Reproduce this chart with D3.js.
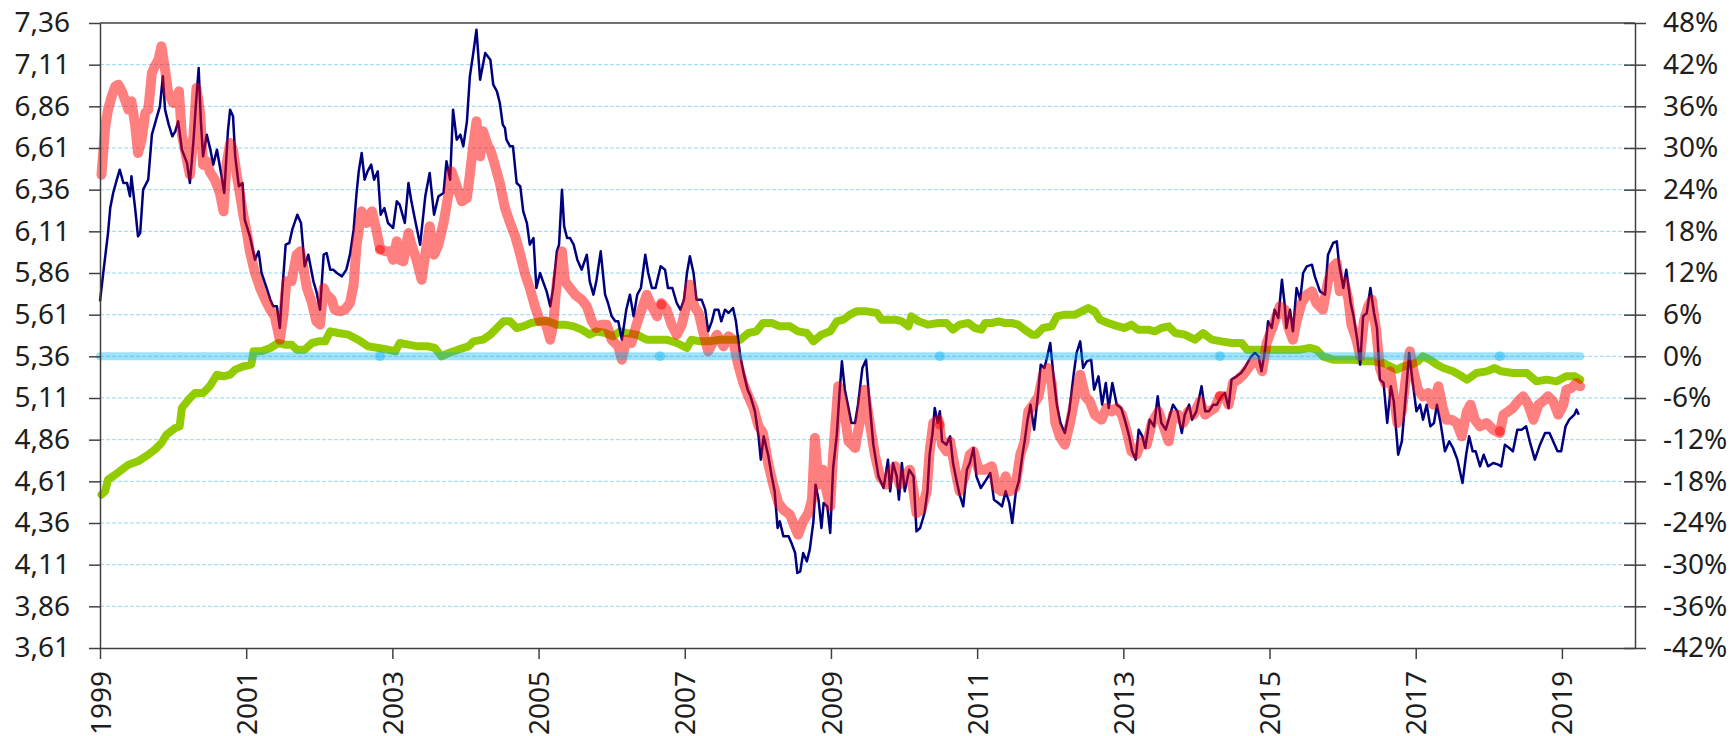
<!DOCTYPE html>
<html>
<head>
<meta charset="utf-8">
<script src="https://cdn.jsdelivr.net/npm/d3@7"></script>
<style>
  body { margin: 0; background: #fff; }
  text { font-family: "Noto Sans", sans-serif; }
</style>
</head>
<body>
<div id="chart"></div>
<script>
// x tick labels and axis ticks
var xTicks = [1999, 2001, 2003, 2005, 2007, 2009, 2011, 2013, 2015, 2017, 2019];
var leftTicks = [3.61, 3.86, 4.11, 4.36, 4.61, 4.86, 5.11, 5.36, 5.61, 5.86, 6.11, 6.36, 6.61, 6.86, 7.11, 7.36];
var rightTicks = [-42, -36, -30, -24, -18, -12, -6, 0, 6, 12, 18, 24, 30, 36, 42, 48];

// navy series [year, value] (left axis)
var navy = [
 [1999.00,5.69],[1999.05,5.88],[1999.11,6.10],[1999.14,6.25],[1999.18,6.34],[1999.23,6.42],[1999.27,6.48],[1999.32,6.40],
 [1999.37,6.40],[1999.41,6.32],[1999.43,6.44],[1999.48,6.25],[1999.52,6.08],[1999.55,6.10],[1999.59,6.36],[1999.66,6.42],
 [1999.71,6.69],[1999.78,6.80],[1999.82,6.86],[1999.86,7.04],[1999.89,6.84],[1999.94,6.75],[1999.99,6.68],[2000.03,6.71],
 [2000.07,6.77],[2000.12,6.60],[2000.19,6.52],[2000.23,6.40],[2000.28,6.66],[2000.31,6.86],[2000.35,7.09],[2000.38,6.77],
 [2000.41,6.56],[2000.46,6.69],[2000.51,6.60],[2000.55,6.51],[2000.60,6.60],[2000.66,6.45],[2000.70,6.34],[2000.75,6.71],
 [2000.78,6.84],[2000.82,6.80],[2000.85,6.56],[2000.90,6.38],[2000.95,6.40],[2000.98,6.18],[2001.05,6.08],[2001.12,5.94],
 [2001.17,5.99],[2001.21,5.86],[2001.28,5.77],[2001.33,5.70],[2001.37,5.66],[2001.42,5.66],[2001.46,5.53],[2001.49,5.73],
 [2001.54,6.03],[2001.59,6.04],[2001.63,6.12],[2001.70,6.21],[2001.75,6.16],[2001.80,5.90],[2001.85,5.97],[2001.92,5.81],
 [2001.96,5.75],[2002.01,5.64],[2002.06,5.97],[2002.10,5.98],[2002.15,5.88],[2002.19,5.88],[2002.24,5.86],[2002.31,5.84],
 [2002.37,5.88],[2002.42,5.97],[2002.47,6.12],[2002.51,6.34],[2002.54,6.47],[2002.58,6.58],[2002.62,6.42],[2002.66,6.47],
 [2002.71,6.51],[2002.75,6.42],[2002.80,6.47],[2002.84,6.21],[2002.89,6.25],[2002.94,6.16],[2003.01,6.13],[2003.06,6.29],
 [2003.10,6.27],[2003.17,6.16],[2003.22,6.40],[2003.26,6.29],[2003.31,6.18],[2003.38,6.03],[2003.45,6.32],[2003.51,6.46],
 [2003.57,6.21],[2003.63,6.32],[2003.70,6.34],[2003.74,6.53],[2003.79,6.42],[2003.83,6.84],[2003.88,6.66],[2003.93,6.69],
 [2003.97,6.62],[2004.02,6.77],[2004.06,7.04],[2004.11,7.19],[2004.15,7.32],[2004.20,7.02],[2004.27,7.18],[2004.34,7.14],
 [2004.38,6.99],[2004.43,6.95],[2004.47,6.88],[2004.51,6.75],[2004.54,6.73],[2004.56,6.66],[2004.61,6.62],[2004.65,6.62],
 [2004.70,6.40],[2004.75,6.38],[2004.79,6.23],[2004.84,6.16],[2004.88,6.03],[2004.93,6.07],[2004.97,5.77],[2005.02,5.86],
 [2005.06,5.81],[2005.11,5.75],[2005.16,5.66],[2005.20,5.77],[2005.25,5.99],[2005.28,6.03],[2005.32,6.36],[2005.35,6.14],
 [2005.39,6.07],[2005.43,6.07],[2005.48,6.03],[2005.53,5.94],[2005.59,5.88],[2005.66,5.97],[2005.70,5.81],[2005.75,5.73],
 [2005.79,5.81],[2005.85,5.99],[2005.91,5.73],[2005.95,5.68],[2006.00,5.60],[2006.05,5.57],[2006.09,5.57],[2006.14,5.46],
 [2006.20,5.64],[2006.25,5.73],[2006.30,5.60],[2006.35,5.73],[2006.40,5.77],[2006.46,5.97],[2006.50,5.86],[2006.55,5.77],
 [2006.60,5.77],[2006.67,5.90],[2006.73,5.88],[2006.77,5.77],[2006.83,5.77],[2006.89,5.68],[2006.94,5.64],[2006.99,5.70],
 [2007.03,5.86],[2007.07,5.96],[2007.12,5.86],[2007.16,5.70],[2007.23,5.70],[2007.28,5.64],[2007.32,5.51],[2007.37,5.57],
 [2007.41,5.64],[2007.46,5.64],[2007.50,5.57],[2007.55,5.64],[2007.60,5.62],[2007.66,5.65],[2007.70,5.57],[2007.76,5.36],
 [2007.81,5.25],[2007.86,5.16],[2007.90,5.12],[2007.96,5.03],[2008.01,4.88],[2008.04,4.74],[2008.08,4.88],[2008.14,4.77],
 [2008.19,4.64],[2008.23,4.55],[2008.27,4.33],[2008.30,4.37],[2008.35,4.28],[2008.42,4.28],[2008.46,4.24],[2008.51,4.18],
 [2008.54,4.06],[2008.58,4.07],[2008.62,4.18],[2008.67,4.13],[2008.71,4.20],[2008.76,4.37],[2008.79,4.59],[2008.83,4.50],
 [2008.87,4.33],[2008.90,4.48],[2008.95,4.46],[2008.99,4.30],[2009.03,4.69],[2009.08,4.89],[2009.12,5.16],[2009.15,5.33],
 [2009.19,5.16],[2009.24,5.05],[2009.28,4.96],[2009.33,4.96],[2009.37,5.07],[2009.43,5.29],[2009.48,5.34],[2009.52,5.12],
 [2009.58,4.83],[2009.65,4.64],[2009.72,4.57],[2009.78,4.74],[2009.81,4.55],[2009.85,4.72],[2009.90,4.64],[2009.93,4.50],
 [2009.97,4.72],[2010.01,4.55],[2010.07,4.68],[2010.13,4.64],[2010.17,4.31],[2010.22,4.33],[2010.28,4.42],[2010.32,4.55],
 [2010.35,4.77],[2010.39,4.90],[2010.42,5.05],[2010.46,4.96],[2010.49,5.03],[2010.52,4.85],[2010.58,4.83],[2010.63,4.88],
 [2010.67,4.72],[2010.72,4.61],[2010.76,4.53],[2010.81,4.46],[2010.86,4.68],[2010.90,4.72],[2010.95,4.81],[2010.99,4.64],
 [2011.05,4.57],[2011.11,4.61],[2011.18,4.66],[2011.23,4.50],[2011.29,4.48],[2011.34,4.46],[2011.39,4.55],[2011.44,4.48],
 [2011.48,4.36],[2011.53,4.55],[2011.57,4.61],[2011.62,4.77],[2011.65,4.85],[2011.69,4.98],[2011.73,5.07],[2011.78,4.92],
 [2011.83,5.12],[2011.87,5.31],[2011.92,5.29],[2011.96,5.36],[2012.00,5.44],[2012.05,5.22],[2012.09,5.07],[2012.14,4.96],
 [2012.20,4.90],[2012.26,5.03],[2012.32,5.25],[2012.36,5.38],[2012.41,5.45],[2012.45,5.29],[2012.50,5.33],[2012.56,5.34],
 [2012.60,5.16],[2012.66,5.24],[2012.71,5.07],[2012.76,5.20],[2012.80,5.05],[2012.85,5.20],[2012.91,5.07],[2012.97,5.05],
 [2013.02,4.98],[2013.08,4.88],[2013.12,4.79],[2013.17,4.74],[2013.21,4.92],[2013.26,4.88],[2013.30,4.81],[2013.36,4.98],
 [2013.42,4.94],[2013.47,5.12],[2013.52,4.96],[2013.58,4.92],[2013.64,5.01],[2013.68,5.07],[2013.74,5.03],[2013.80,4.90],
 [2013.84,5.01],[2013.90,5.07],[2013.94,4.98],[2014.00,5.03],[2014.07,5.18],[2014.12,5.03],[2014.17,5.03],[2014.23,5.07],
 [2014.28,5.07],[2014.34,5.12],[2014.39,5.14],[2014.44,5.05],[2014.48,5.22],[2014.55,5.24],[2014.61,5.26],[2014.66,5.29],
 [2014.71,5.33],[2014.75,5.36],[2014.80,5.38],[2014.85,5.36],[2014.89,5.27],[2014.94,5.40],[2014.98,5.57],[2015.03,5.53],
 [2015.07,5.64],[2015.12,5.59],[2015.17,5.82],[2015.21,5.66],[2015.23,5.53],[2015.28,5.64],[2015.32,5.51],[2015.37,5.77],
 [2015.42,5.70],[2015.46,5.86],[2015.51,5.90],[2015.58,5.91],[2015.62,5.84],[2015.69,5.75],[2015.76,5.73],[2015.80,5.97],
 [2015.87,6.04],[2015.92,6.05],[2015.95,5.92],[2016.01,5.77],[2016.05,5.88],[2016.11,5.68],[2016.15,5.60],[2016.20,5.46],
 [2016.24,5.31],[2016.28,5.60],[2016.33,5.62],[2016.38,5.77],[2016.43,5.62],[2016.47,5.53],[2016.51,5.22],[2016.56,5.20],
 [2016.61,4.96],[2016.66,5.18],[2016.70,5.09],[2016.76,4.77],[2016.81,4.85],[2016.87,5.16],[2016.91,5.38],[2016.96,5.20],
 [2017.01,5.03],[2017.06,5.07],[2017.10,4.98],[2017.15,5.07],[2017.20,4.94],[2017.25,4.96],[2017.29,5.07],[2017.34,4.96],
 [2017.40,4.79],[2017.46,4.85],[2017.51,4.81],[2017.57,4.74],[2017.60,4.68],[2017.64,4.60],[2017.69,4.77],[2017.73,4.88],
 [2017.78,4.79],[2017.82,4.79],[2017.88,4.70],[2017.93,4.77],[2017.99,4.70],[2018.06,4.72],[2018.13,4.71],[2018.17,4.70],
 [2018.22,4.83],[2018.28,4.81],[2018.33,4.79],[2018.39,4.92],[2018.45,4.92],[2018.51,4.94],[2018.56,4.85],[2018.63,4.74],
 [2018.70,4.83],[2018.77,4.90],[2018.83,4.90],[2018.88,4.85],[2018.94,4.79],[2018.99,4.79],[2019.05,4.94],[2019.10,4.98],
 [2019.17,5.01],[2019.20,5.04],[2019.23,5.01]
];

// salmon series [year, value] (left axis)
var salmon = [
 [1999.02,6.45],[1999.07,6.73],[1999.11,6.84],[1999.16,6.92],[1999.21,6.98],[1999.25,6.99],[1999.30,6.95],[1999.34,6.90],
 [1999.39,6.84],[1999.43,6.89],[1999.48,6.75],[1999.52,6.58],[1999.57,6.66],[1999.62,6.82],[1999.66,6.84],[1999.71,7.06],
 [1999.75,7.10],[1999.80,7.14],[1999.84,7.22],[1999.89,7.08],[1999.93,6.95],[2000.00,6.88],[2000.05,6.88],[2000.08,6.95],
 [2000.12,6.69],[2000.17,6.58],[2000.23,6.45],[2000.28,6.69],[2000.32,6.97],[2000.37,6.82],[2000.41,6.51],[2000.46,6.53],
 [2000.50,6.47],[2000.57,6.42],[2000.64,6.34],[2000.69,6.23],[2000.73,6.51],[2000.78,6.64],[2000.82,6.60],[2000.87,6.45],
 [2000.92,6.32],[2000.96,6.21],[2001.01,6.10],[2001.05,5.99],[2001.12,5.86],[2001.19,5.77],[2001.26,5.70],[2001.33,5.64],
 [2001.39,5.60],[2001.46,5.46],[2001.51,5.61],[2001.55,5.81],[2001.62,5.81],[2001.69,5.97],[2001.74,5.99],[2001.78,5.90],
 [2001.83,5.77],[2001.90,5.68],[2001.96,5.57],[2002.01,5.55],[2002.06,5.77],[2002.10,5.73],[2002.17,5.70],[2002.21,5.64],
 [2002.28,5.63],[2002.35,5.64],[2002.42,5.68],[2002.47,5.79],[2002.51,6.03],[2002.58,6.23],[2002.65,6.16],[2002.72,6.23],
 [2002.78,6.12],[2002.83,6.01],[2002.90,5.99],[2002.97,5.99],[2003.01,5.94],[2003.06,6.05],[2003.10,5.94],[2003.15,5.93],
 [2003.22,6.10],[2003.26,6.03],[2003.33,5.94],[2003.40,5.82],[2003.45,5.97],[2003.51,6.14],[2003.57,5.97],[2003.63,6.03],
 [2003.70,6.16],[2003.77,6.34],[2003.81,6.47],[2003.88,6.38],[2003.95,6.29],[2004.02,6.31],[2004.06,6.45],[2004.11,6.64],
 [2004.15,6.77],[2004.20,6.56],[2004.24,6.71],[2004.31,6.62],[2004.34,6.60],[2004.40,6.51],[2004.47,6.40],[2004.54,6.25],
 [2004.61,6.16],[2004.68,6.08],[2004.75,5.97],[2004.81,5.86],[2004.88,5.77],[2004.95,5.66],[2005.02,5.57],[2005.09,5.57],
 [2005.16,5.46],[2005.20,5.55],[2005.25,5.81],[2005.32,5.99],[2005.36,5.81],[2005.43,5.77],[2005.50,5.73],[2005.59,5.70],
 [2005.66,5.66],[2005.73,5.57],[2005.79,5.53],[2005.86,5.55],[2005.93,5.55],[2006.00,5.46],[2006.09,5.42],[2006.14,5.34],
 [2006.20,5.46],[2006.27,5.44],[2006.34,5.55],[2006.41,5.64],[2006.48,5.73],[2006.55,5.66],[2006.62,5.60],[2006.68,5.68],
 [2006.75,5.64],[2006.82,5.55],[2006.89,5.49],[2006.96,5.55],[2007.03,5.68],[2007.07,5.79],[2007.13,5.66],[2007.19,5.62],
 [2007.25,5.51],[2007.32,5.39],[2007.38,5.44],[2007.44,5.49],[2007.53,5.42],[2007.60,5.48],[2007.66,5.46],[2007.73,5.31],
 [2007.80,5.20],[2007.87,5.12],[2007.94,5.05],[2008.01,4.94],[2008.07,4.90],[2008.14,4.72],[2008.21,4.59],[2008.28,4.48],
 [2008.35,4.44],[2008.44,4.41],[2008.51,4.33],[2008.55,4.29],[2008.62,4.37],[2008.69,4.42],[2008.74,4.50],[2008.78,4.87],
 [2008.83,4.59],[2008.89,4.68],[2008.94,4.55],[2008.99,4.46],[2009.03,4.77],[2009.10,5.18],[2009.17,5.07],[2009.24,4.85],
 [2009.33,4.81],[2009.40,4.98],[2009.46,5.16],[2009.53,4.96],[2009.60,4.77],[2009.67,4.64],[2009.76,4.59],[2009.81,4.66],
 [2009.88,4.70],[2009.94,4.59],[2010.01,4.64],[2010.08,4.68],[2010.13,4.55],[2010.17,4.42],[2010.24,4.44],[2010.31,4.55],
 [2010.35,4.79],[2010.40,4.96],[2010.47,4.98],[2010.52,4.83],[2010.58,4.79],[2010.63,4.85],[2010.70,4.68],[2010.76,4.55],
 [2010.83,4.64],[2010.90,4.77],[2010.95,4.79],[2011.02,4.68],[2011.11,4.68],[2011.20,4.70],[2011.27,4.57],[2011.33,4.55],
 [2011.39,4.64],[2011.45,4.55],[2011.52,4.57],[2011.59,4.77],[2011.65,4.85],[2011.70,5.03],[2011.77,5.07],[2011.84,5.12],
 [2011.90,5.25],[2011.97,5.29],[2012.02,5.20],[2012.07,4.96],[2012.13,4.88],[2012.20,4.83],[2012.27,4.96],[2012.34,5.12],
 [2012.41,5.25],[2012.48,5.12],[2012.54,5.09],[2012.61,5.01],[2012.70,4.98],[2012.77,5.05],[2012.84,5.03],[2012.91,5.05],
 [2012.98,5.01],[2013.04,4.92],[2013.11,4.79],[2013.18,4.77],[2013.25,4.85],[2013.32,4.83],[2013.39,4.96],[2013.48,5.03],
 [2013.55,4.94],[2013.62,4.85],[2013.68,5.01],[2013.75,5.01],[2013.82,4.96],[2013.89,5.03],[2013.96,5.01],[2014.05,5.09],
 [2014.12,5.01],[2014.18,5.03],[2014.25,5.05],[2014.32,5.12],[2014.39,5.12],[2014.44,5.07],[2014.50,5.20],[2014.57,5.22],
 [2014.64,5.25],[2014.71,5.29],[2014.78,5.33],[2014.85,5.32],[2014.90,5.27],[2014.96,5.44],[2015.02,5.51],[2015.07,5.57],
 [2015.14,5.66],[2015.21,5.64],[2015.26,5.53],[2015.32,5.46],[2015.37,5.57],[2015.44,5.68],[2015.51,5.73],[2015.58,5.75],
 [2015.64,5.68],[2015.73,5.64],[2015.80,5.81],[2015.87,5.90],[2015.92,5.92],[2015.96,5.75],[2016.02,5.81],[2016.08,5.70],
 [2016.12,5.55],[2016.19,5.46],[2016.24,5.36],[2016.29,5.57],[2016.35,5.66],[2016.40,5.70],[2016.46,5.51],[2016.51,5.29],
 [2016.58,5.20],[2016.65,5.27],[2016.70,5.12],[2016.75,4.96],[2016.81,5.03],[2016.87,5.25],[2016.92,5.39],[2016.97,5.27],
 [2017.03,5.16],[2017.10,5.12],[2017.17,5.14],[2017.24,5.07],[2017.31,5.18],[2017.37,5.05],[2017.42,4.98],[2017.49,4.98],
 [2017.56,4.96],[2017.63,4.88],[2017.70,5.03],[2017.75,5.07],[2017.81,4.98],[2017.88,4.94],[2017.97,4.96],[2018.06,4.92],
 [2018.15,4.90],[2018.20,5.01],[2018.27,5.03],[2018.33,5.05],[2018.40,5.09],[2018.47,5.12],[2018.54,5.07],[2018.61,4.98],
 [2018.68,5.07],[2018.74,5.09],[2018.81,5.12],[2018.88,5.09],[2018.95,5.01],[2019.02,5.07],[2019.06,5.16],[2019.13,5.17],
 [2019.20,5.20],[2019.25,5.18]
];
var salmonMarkers = [[2002.83,6.00],[2006.68,5.67],[2010.49,4.95],[2014.32,5.12],[2018.15,4.91]];

// green series [year, value] (left axis scale)
var green = [
 [1999.02,4.53],[1999.07,4.55],[1999.11,4.62],[1999.21,4.65],[1999.30,4.68],[1999.39,4.71],[1999.52,4.73],[1999.66,4.77],
 [1999.75,4.80],[1999.84,4.84],[1999.91,4.89],[2000.03,4.93],[2000.09,4.94],[2000.12,5.05],[2000.21,5.10],[2000.30,5.14],
 [2000.41,5.14],[2000.50,5.18],[2000.60,5.25],[2000.69,5.24],[2000.78,5.25],[2000.85,5.28],[2000.96,5.30],[2001.07,5.31],
 [2001.10,5.39],[2001.21,5.39],[2001.33,5.41],[2001.44,5.44],[2001.53,5.43],[2001.62,5.43],[2001.69,5.40],[2001.80,5.40],
 [2001.90,5.44],[2001.99,5.45],[2002.08,5.45],[2002.15,5.51],[2002.26,5.50],[2002.40,5.49],[2002.53,5.46],[2002.67,5.42],
 [2002.81,5.41],[2002.94,5.40],[2003.04,5.39],[2003.10,5.44],[2003.22,5.43],[2003.35,5.42],[2003.49,5.42],[2003.58,5.41],
 [2003.67,5.36],[2003.77,5.38],[2003.90,5.40],[2004.04,5.42],[2004.11,5.45],[2004.24,5.46],[2004.34,5.49],[2004.43,5.53],
 [2004.52,5.57],[2004.61,5.57],[2004.70,5.53],[2004.79,5.54],[2004.90,5.56],[2005.02,5.57],[2005.13,5.57],[2005.25,5.55],
 [2005.36,5.55],[2005.48,5.54],[2005.59,5.52],[2005.70,5.49],[2005.79,5.51],[2005.91,5.50],[2006.02,5.48],[2006.11,5.51],
 [2006.20,5.50],[2006.34,5.49],[2006.48,5.46],[2006.62,5.46],[2006.75,5.46],[2006.89,5.44],[2007.03,5.41],[2007.09,5.46],
 [2007.21,5.45],[2007.34,5.45],[2007.48,5.46],[2007.62,5.46],[2007.76,5.46],[2007.87,5.50],[2007.98,5.51],[2008.07,5.56],
 [2008.19,5.56],[2008.30,5.54],[2008.44,5.54],[2008.55,5.51],[2008.67,5.50],[2008.76,5.45],[2008.87,5.49],[2008.99,5.51],
 [2009.08,5.57],[2009.17,5.58],[2009.26,5.61],[2009.35,5.63],[2009.49,5.63],[2009.63,5.62],[2009.69,5.58],[2009.88,5.58],
 [2009.97,5.57],[2010.06,5.54],[2010.10,5.60],[2010.20,5.57],[2010.33,5.55],[2010.47,5.56],[2010.58,5.56],[2010.67,5.52],
 [2010.76,5.55],[2010.88,5.56],[2010.97,5.53],[2011.06,5.52],[2011.11,5.56],[2011.20,5.56],[2011.29,5.57],[2011.38,5.56],
 [2011.47,5.56],[2011.56,5.55],[2011.65,5.52],[2011.75,5.49],[2011.81,5.49],[2011.90,5.53],[2012.02,5.54],[2012.09,5.60],
 [2012.20,5.61],[2012.34,5.61],[2012.43,5.63],[2012.52,5.65],[2012.61,5.63],[2012.68,5.58],[2012.79,5.56],[2012.93,5.54],
 [2013.02,5.53],[2013.11,5.55],[2013.20,5.52],[2013.34,5.52],[2013.43,5.51],[2013.52,5.53],[2013.62,5.54],[2013.71,5.50],
 [2013.84,5.49],[2013.98,5.46],[2014.09,5.50],[2014.21,5.46],[2014.34,5.45],[2014.48,5.44],[2014.62,5.44],[2014.69,5.40],
 [2014.80,5.40],[2014.94,5.40],[2015.07,5.40],[2015.21,5.40],[2015.42,5.40],[2015.55,5.41],[2015.64,5.40],[2015.73,5.36],
 [2015.87,5.34],[2016.01,5.34],[2016.15,5.34],[2016.28,5.33],[2016.42,5.33],[2016.56,5.32],[2016.65,5.30],[2016.74,5.28],
 [2016.83,5.30],[2016.94,5.31],[2017.03,5.33],[2017.10,5.36],[2017.19,5.34],[2017.29,5.31],[2017.38,5.29],[2017.51,5.27],
 [2017.63,5.24],[2017.70,5.22],[2017.83,5.26],[2017.97,5.27],[2018.08,5.29],[2018.17,5.27],[2018.33,5.26],[2018.52,5.26],
 [2018.65,5.21],[2018.79,5.22],[2018.93,5.21],[2019.06,5.24],[2019.18,5.24],[2019.25,5.22]
];

// light blue zero line (right axis, %)
var zeroLine = [[1999.00, 0], [2019.25, 0]];
var zeroMarkers = [[2002.83, 0], [2006.66, 0], [2010.49, 0], [2014.32, 0], [2018.15, 0]];

var W = 1731, H = 736;
var mLeft = 100, mRight = 1635, mTop = 23, mBottom = 648;

var svg = d3.select("#chart").append("svg")
    .attr("width", W)
    .attr("height", H);

var x = d3.scaleLinear().domain([1999, 2020]).range([mLeft, mRight]);
var yL = d3.scaleLinear().domain([3.61, 7.36]).range([mBottom, mTop]);
var yR = d3.scaleLinear().domain([-42, 48]).range([mBottom, mTop]);

// gridlines
svg.append("g")
    .selectAll("line")
    .data(leftTicks.slice(1, -1))
    .enter()
    .append("line")
    .attr("x1", mLeft)
    .attr("x2", mRight)
    .attr("y1", function(d) { return yL(d); })
    .attr("y2", function(d) { return yL(d); })
    .attr("stroke", "#93d9f4")
    .attr("stroke-width", 1)
    .attr("stroke-dasharray", "4,2");

var lineL = d3.line()
    .x(function(d) { return x(d[0]); })
    .y(function(d) { return yL(d[1]); });
var lineR = d3.line()
    .x(function(d) { return x(d[0]); })
    .y(function(d) { return yR(d[1]); });

// green
svg.append("path")
    .datum(green)
    .attr("d", lineL)
    .attr("fill", "none")
    .attr("stroke", "#92cc00")
    .attr("stroke-width", 8)
    .attr("stroke-linejoin", "round")
    .attr("stroke-linecap", "round");

// navy
svg.append("path")
    .datum(navy)
    .attr("d", lineL)
    .attr("fill", "none")
    .attr("stroke", "#00007f")
    .attr("stroke-width", 2.5)
    .attr("stroke-linejoin", "round");

// salmon (semi transparent red)
svg.append("path")
    .datum(salmon)
    .attr("d", lineL)
    .attr("fill", "none")
    .attr("stroke", "#ff0000")
    .attr("stroke-opacity", 0.5)
    .attr("stroke-width", 10)
    .attr("stroke-linejoin", "round")
    .attr("stroke-linecap", "round");

svg.append("g")
    .selectAll("circle")
    .data(salmonMarkers)
    .enter()
    .append("circle")
    .attr("cx", function(d) { return x(d[0]); })
    .attr("cy", function(d) { return yL(d[1]); })
    .attr("r", 5)
    .attr("fill", "#ff0000")
    .attr("fill-opacity", 0.5);

// zero line
svg.append("path")
    .datum(zeroLine)
    .attr("d", lineR)
    .attr("fill", "none")
    .attr("stroke", "#00b0f0")
    .attr("stroke-opacity", 0.38)
    .attr("stroke-width", 8)
    .attr("stroke-linecap", "round");

svg.append("g")
    .selectAll("circle")
    .data(zeroMarkers)
    .enter()
    .append("circle")
    .attr("cx", function(d) { return x(d[0]); })
    .attr("cy", function(d) { return yR(d[1]); })
    .attr("r", 5)
    .attr("fill", "#00b0f0")
    .attr("fill-opacity", 0.4);

// AXES
var axisColor = "#404040";
var fontSize = "28px";

var gl = svg.append("g")
    .attr("transform", "translate(" + mLeft + ",0)")
    .call(d3.axisLeft(yL).tickValues(leftTicks).tickSizeInner(11).tickSizeOuter(0).tickPadding(19)
        .tickFormat(function(d) { return d.toFixed(2).replace(".", ","); }));

var gr = svg.append("g")
    .attr("transform", "translate(" + mRight + ",0)")
    .call(d3.axisRight(yR).tickValues(rightTicks).tickSizeInner(11).tickSizeOuter(0).tickPadding(17)
        .tickFormat(function(d) { return d + "%"; }));
gr.selectAll(".tick line").attr("x1", -11).attr("x2", 11);

var gb = svg.append("g")
    .attr("transform", "translate(0," + mBottom + ")")
    .call(d3.axisBottom(x).tickValues(xTicks).tickSizeInner(11).tickSizeOuter(0).tickFormat(d3.format("d")));
gb.selectAll(".tick text")
    .attr("transform", "rotate(-90)")
    .attr("x", -23)
    .attr("y", 0)
    .attr("dy", "0.36em")
    .attr("text-anchor", "end");

// top frame
svg.append("line")
    .attr("x1", mLeft).attr("x2", mRight)
    .attr("y1", mTop).attr("y2", mTop)
    .attr("stroke", axisColor)
    .attr("stroke-width", 1.5);

[gl, gr, gb].forEach(function(g) {
    g.selectAll("path.domain").attr("stroke", axisColor).attr("stroke-width", 1.5);
    g.selectAll(".tick line").attr("stroke", axisColor).attr("stroke-width", 1.5);
    g.selectAll(".tick text")
        .attr("fill", "#1e1e1e")
        .style("font-family", "'Noto Sans', sans-serif")
        .style("font-size", fontSize);
});
</script>
</body>
</html>
